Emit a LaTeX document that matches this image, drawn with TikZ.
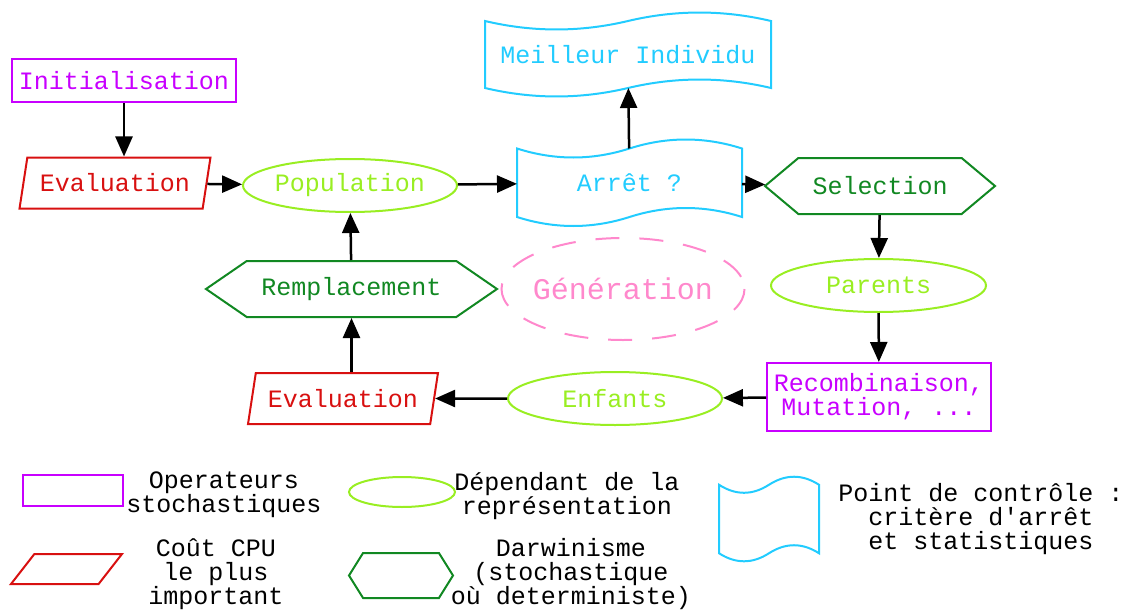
\documentclass[tikz,border=0pt]{standalone}
\usepackage{fontspec}
\newfontfamily\courier{Liberation Mono}
\usetikzlibrary{arrows.meta,shapes.geometric,shapes.symbols,calc,positioning}
\definecolor{violetOp}{RGB}{200,0,255}
\definecolor{rougeCPU}{RGB}{216,16,16}
\definecolor{vertClair}{RGB}{153,238,34}
\definecolor{vertFonce}{RGB}{17,136,34}
\definecolor{cyanCtrl}{RGB}{34,204,255}
\definecolor{rosePale}{RGB}{255,136,204}
\tikzstyle{fleche}   =[-{Triangle[length=20pt,width=17pt]}, line width=2.5pt]
\tikzstyle{operateur}=[rectangle, draw=violetOp, text=violetOp,
                       line width=2pt, inner sep=0pt]
\tikzstyle{couteux}  =[trapezium, trapezium left angle=70,
                       trapezium right angle=110, trapezium stretches=true,
                       draw=rougeCPU, text=rougeCPU, line width=2pt, inner sep=0pt]
\tikzstyle{dependant}=[ellipse, draw=vertClair, text=vertClair,
                       line width=2pt, inner sep=0pt]
\tikzstyle{darwin}   =[signal, signal to=west and east, draw=vertFonce,
                       text=vertFonce, line width=2pt, inner sep=0pt]
\tikzstyle{controle} =[rectangle, text=cyanCtrl, inner sep=0pt, outer sep=0pt]
\tikzstyle{legende}  =[inner sep=3pt]
% bande ondulee autour d'un noeud (#1 = noeud, #2 = creux de la vague)
\newcommand{\bande}[2]{%
  \draw[cyanCtrl, line width=2pt] (#1.north west)
    .. controls ($(#1.north west)!1/6!(#1.north east)+(0,#2)$) and ($(#1.north west)!1/3!(#1.north east)+(0,#2)$) .. ($(#1.north west)!1/2!(#1.north east)$)
    .. controls ($(#1.north west)!2/3!(#1.north east)-(0,#2)$) and ($(#1.north west)!5/6!(#1.north east)-(0,#2)$) .. (#1.north east)
    -- (#1.south east)
    .. controls ($(#1.south west)!5/6!(#1.south east)-(0,#2)$) and ($(#1.south west)!2/3!(#1.south east)-(0,#2)$) .. ($(#1.south west)!1/2!(#1.south east)$)
    .. controls ($(#1.south west)!1/3!(#1.south east)+(0,#2)$) and ($(#1.south west)!1/6!(#1.south east)+(0,#2)$) .. (#1.south west)
    -- cycle;}
\begin{document}
\begin{tikzpicture}[x=1pt, y=-1pt, font=\courier\fontsize{25}{24}\selectfont]
    \useasboundingbox (0,0) rectangle (1124,610);

    % boucle principale
    \node (init) [operateur, minimum width=224pt, minimum height=43pt] at (124,80.5) {Initialisation};
    \node (eval1) [couteux, minimum width=191pt, minimum height=51pt] at (115,183) {Evaluation};
    \node (pop) [dependant, minimum width=214pt, minimum height=53pt] at (350,185.5) {Population};
    \node (arret) [controle, minimum width=225pt, minimum height=68.5pt] at (629.5,182.75) {Arrêt ?};
    \bande{arret}{12}
    \node (meilleur) [controle, minimum width=286pt, minimum height=67pt] at (628,54.5) {Meilleur Individu};
    \bande{meilleur}{11.3}
    \node (selection) [darwin, signal pointer angle=80, minimum width=230pt, minimum height=56pt] at (880,186) {Selection};
    \node (parents) [dependant, minimum width=215pt, minimum height=53pt] at (878.5,285.5) {Parents};
    \node (recomb) [operateur, align=center, minimum width=224pt, minimum height=68pt] at (879,397) {Recombinaison,\\Mutation, ...};
    \node (enfants) [dependant, minimum width=214pt, minimum height=53pt] at (615,398.5) {Enfants};
    \node (eval2) [couteux, minimum width=190pt, minimum height=51pt] at (343,398.5) {Evaluation};
    \node (rempl) [darwin, signal pointer angle=69, minimum width=291pt, minimum height=56pt] at (351.5,289) {Remplacement};
    \node (gen) [text=rosePale, font=\courier\fontsize{30}{30}\selectfont] at (623,289) {Génération};
    \draw [rosePale, line width=2pt, dash pattern=on 24pt off 20pt]
        (gen.center) ellipse [x radius=121.5, y radius=51];

    \draw [fleche] (init.south) -- (init.south |- eval1.north);
    \draw [fleche] (eval1) -- (pop);
    \draw [fleche] (pop) -- (arret);
    \draw [fleche] (arret) -- (meilleur);
    \draw [fleche] (arret) -- (selection);
    \draw [fleche] (selection) -- (parents);
    \draw [fleche] (parents) -- (recomb);
    \draw [fleche] (recomb) -- (enfants);
    \draw [fleche] (enfants) -- (eval2);
    \draw [fleche] (eval2.north -| rempl.south) -- (rempl.south);
    \draw [fleche] (rempl) -- (pop);

    % legende
    \node (legop) [operateur, legende, minimum width=100pt, minimum height=31pt] at (73,490.5) {};
    \node (txtop) [align=center] at (224,495) {Operateurs\\stochastiques};
    \node (legdep) [dependant, legende, minimum width=106pt, minimum height=30pt] at (402,492) {};
    \node (txtdep) [align=center] at (567,496) {Dépendant de la\\représentation};
    \node (legctrl) [controle, minimum width=100pt, minimum height=68.5pt] at (769,519) {};
    \bande{legctrl}{10.7}
    \node (txtctrl) [align=center] at (981,519) {Point de contrôle :\\critère d'arrêt\\et statistiques};
    \node (legcpu) [couteux, legende, minimum width=111pt, minimum height=30pt] at (66.5,569) {};
    \node (txtcpu) [align=center] at (216,574) {Coût CPU\\le plus\\important};
    \node (legdar) [darwin, legende, signal pointer angle=116, minimum width=104pt, minimum height=45pt] at (401,575.5) {};
    \node (txtdar) [align=center] at (571,574) {Darwinisme\\(stochastique\\où deterministe)};
\end{tikzpicture}
\end{document}
